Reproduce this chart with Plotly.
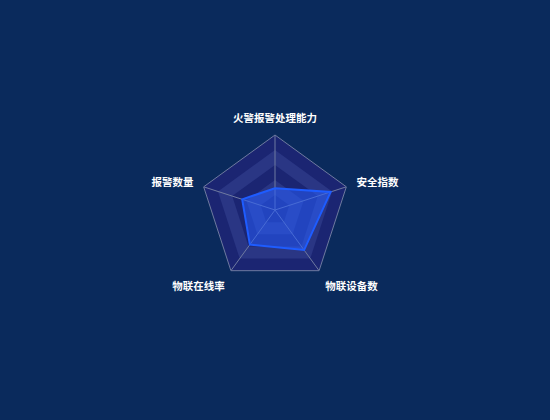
import plotly.graph_objects as go

# 指标（按ECharts雷达图的逆时针顺序，从正上方开始）
indicators = ['火警报警处理能力', '报警数量', '物联在线率', '物联设备数', '安全指数']
values = [29, 46, 57, 66, 78]
max_value = 100

# 背景分割区域（由外到内）
split_levels = [100, 80, 60, 40, 20]
split_colors = ['#1b2572', '#2a3684', '#1b2572', '#2a3684', '#1b2572']

bg = '#0a2a5c'
axis_gray = '#6f7aa0'

theta_closed = indicators + indicators[:1]

fig = go.Figure()

for lvl, col in zip(split_levels, split_colors):
    fig.add_trace(go.Scatterpolar(
        r=[lvl] * len(theta_closed), theta=theta_closed,
        mode='lines', fill='toself', fillcolor=col,
        line=dict(width=0, color=col), hoverinfo='skip', showlegend=False,
    ))

# 轴线
for name in indicators:
    fig.add_trace(go.Scatterpolar(
        r=[0, max_value], theta=[name, name], mode='lines',
        line=dict(color=axis_gray, width=1), hoverinfo='skip', showlegend=False,
    ))

fig.add_trace(go.Scatterpolar(
    r=values + values[:1], theta=theta_closed,
    mode='lines', fill='toself', fillcolor='rgba(40,95,255,0.55)',
    line=dict(color='#1e5cff', width=2), showlegend=False,
))

fig.update_layout(
    width=550, height=420,
    paper_bgcolor=bg, plot_bgcolor=bg,
    margin=dict(l=0, r=0, t=0, b=0),
    font=dict(family='Noto Sans CJK SC', color='white'),
    polar=dict(
        domain=dict(x=[200 / 550, 350 / 550], y=[135 / 420, 285 / 420]),
        bgcolor='rgba(0,0,0,0)',
        gridshape='linear',
        radialaxis=dict(visible=False, range=[0, max_value], showgrid=False),
        angularaxis=dict(
            rotation=90, direction='counterclockwise',
            showgrid=False, showline=True, linecolor=axis_gray, linewidth=1,
            ticks='outside', ticklen=8, tickcolor='rgba(0,0,0,0)',
            tickfont=dict(size=10.5, color='white', weight=600),
        ),
    ),
)

fig.write_html("out.html", config={'displayModeBar': False},
               post_script="document.body.style.margin='0';")
